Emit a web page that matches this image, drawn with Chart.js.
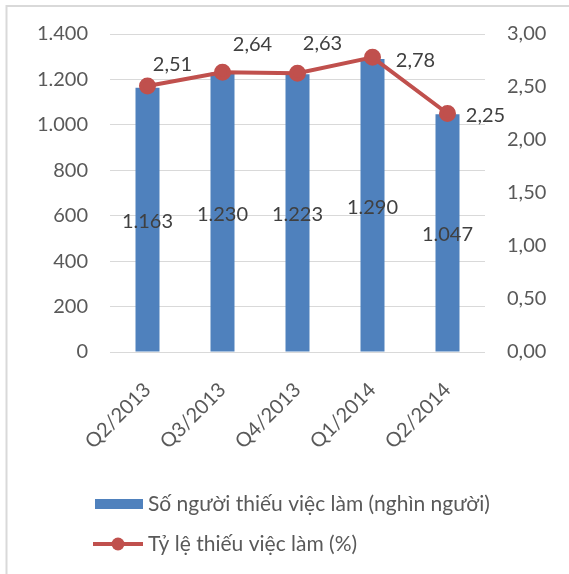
<!DOCTYPE html>
<html>
<head>
<meta charset="utf-8">
<script src="https://cdn.jsdelivr.net/npm/chart.js@4"></script>
<style>
  html, body { margin: 0; padding: 0; background: #fff; }
  #wrap { width: 569px; height: 574px; }
</style>
</head>
<body>
<div id="wrap"><canvas id="myChart" width="569" height="574"></canvas></div>
<script>
// data
var quarters = ['Q2/2013', 'Q3/2013', 'Q4/2013', 'Q1/2014', 'Q2/2014'];
var underemployed = [1163, 1230, 1223, 1290, 1047];   // nghìn người
var underRate = [2.51, 2.64, 2.63, 2.78, 2.25];       // %
var leftTicks = [0, 200, 400, 600, 800, 1000, 1200, 1400];
var rightTicks = [0, 0.5, 1, 1.5, 2, 2.5, 3];

// where the line labels sit relative to their points
var rateLabelShift = [[25, -21], [30, -28], [25, -30], [43, 3], [38, 2]];

var FONT = 'Lato, "Open Sans", sans-serif';

function viInt(v) {
    return String(Math.round(v)).replace(/\B(?=(\d{3})+(?!\d))/g, '.');
}
function viDec(v) {
    return v.toFixed(2).replace('.', ',');
}

var framePlugin = {
    id: 'frame',
    beforeDraw: function(chart) {
        var c = chart.ctx;
        c.save();
        c.strokeStyle = '#d9d9d9';
        c.lineWidth = 2;
        c.beginPath();
        c.moveTo(6.5, 574);
        c.lineTo(6.5, 6);
        c.lineTo(569, 6);
        c.stroke();
        c.restore();
    }
};

var valueLabels = {
    id: 'valueLabels',
    afterDatasetsDraw: function(chart) {
        var c = chart.ctx;
        c.save();
        c.font = '20px ' + FONT;
        c.fillStyle = '#404040';
        c.textAlign = 'center';
        c.textBaseline = 'middle';
        chart.getDatasetMeta(0).data.forEach(function(bar, i) {
            var mid = (bar.y + bar.base) / 2 + 2;
            c.fillText(viInt(underemployed[i]), bar.x, mid);
        });
        chart.getDatasetMeta(1).data.forEach(function(pt, i) {
            c.fillText(viDec(underRate[i]), pt.x + rateLabelShift[i][0], pt.y + rateLabelShift[i][1]);
        });
        c.restore();
    }
};

var legendPlugin = {
    id: 'sideLegend',
    afterDraw: function(chart) {
        var c = chart.ctx;
        var ds = chart.data.datasets;
        c.save();
        c.font = '21px ' + FONT;
        c.textBaseline = 'middle';
        c.textAlign = 'left';
        // bar item
        c.fillStyle = ds[0].backgroundColor;
        c.fillRect(95, 499, 48, 10);
        c.fillStyle = '#595959';
        c.fillText(ds[0].label, 148, 504);
        // line item
        c.strokeStyle = ds[1].borderColor;
        c.lineWidth = 4;
        c.beginPath();
        c.moveTo(93, 544);
        c.lineTo(143, 544);
        c.stroke();
        c.fillStyle = ds[1].pointBackgroundColor;
        c.beginPath();
        c.arc(118, 544, 6.5, 0, Math.PI * 2);
        c.fill();
        c.fillStyle = '#595959';
        c.fillText(ds[1].label, 148, 544);
        c.restore();
    }
};

var ctx = document.getElementById('myChart');
new Chart(ctx, {
    data: {
        labels: quarters,
        datasets: [{
            type: 'bar',
            label: 'Số người thiếu việc làm (nghìn người)',
            data: underemployed,
            yAxisID: 'y',
            backgroundColor: '#4f81bd',
            barPercentage: 0.32,
            categoryPercentage: 1,
            order: 1
        }, {
            type: 'line',
            label: 'Tỷ lệ thiếu việc làm (%)',
            data: underRate,
            yAxisID: 'y1',
            borderColor: '#c0504d',
            backgroundColor: '#c0504d',
            pointBackgroundColor: '#c0504d',
            pointBorderColor: '#c0504d',
            borderWidth: 4,
            pointRadius: 6.5,
            tension: 0,
            order: 0
        }]
    },
    options: {
        responsive: false,
        animation: false,
        devicePixelRatio: 1,
        layout: { padding: { top: 33, left: 0, right: 0, bottom: 0 } },
        plugins: {
            legend: { display: false },
            tooltip: { enabled: false }
        },
        scales: {
            x: {
                grid: { display: false, drawTicks: false },
                border: { display: false },
                ticks: {
                    minRotation: 45,
                    maxRotation: 45,
                    padding: 26,
                    color: '#595959',
                    font: { family: FONT, size: 20 }
                },
                afterFit: function(s) { s.height = 222; }
            },
            y: {
                position: 'left',
                min: 0,
                max: 1400,
                afterBuildTicks: function(s) { s.ticks = leftTicks.map(function(v) { return { value: v }; }); },
                grid: { color: '#d9d9d9', drawTicks: false },
                border: { display: false },
                ticks: {
                    padding: 22,
                    color: '#595959',
                    font: { family: FONT, size: 20 },
                    callback: function(v) { return viInt(v); }
                },
                afterFit: function(s) { s.width = 110; }
            },
            y1: {
                position: 'right',
                min: 0,
                max: 3,
                afterBuildTicks: function(s) { s.ticks = rightTicks.map(function(v) { return { value: v }; }); },
                grid: { display: false, drawTicks: false },
                border: { display: false },
                ticks: {
                    padding: 22,
                    color: '#595959',
                    font: { family: FONT, size: 20 },
                    callback: function(v) { return viDec(v); }
                },
                afterFit: function(s) { s.width = 84; }
            }
        }
    },
    plugins: [framePlugin, valueLabels, legendPlugin]
});
</script>
</body>
</html>
